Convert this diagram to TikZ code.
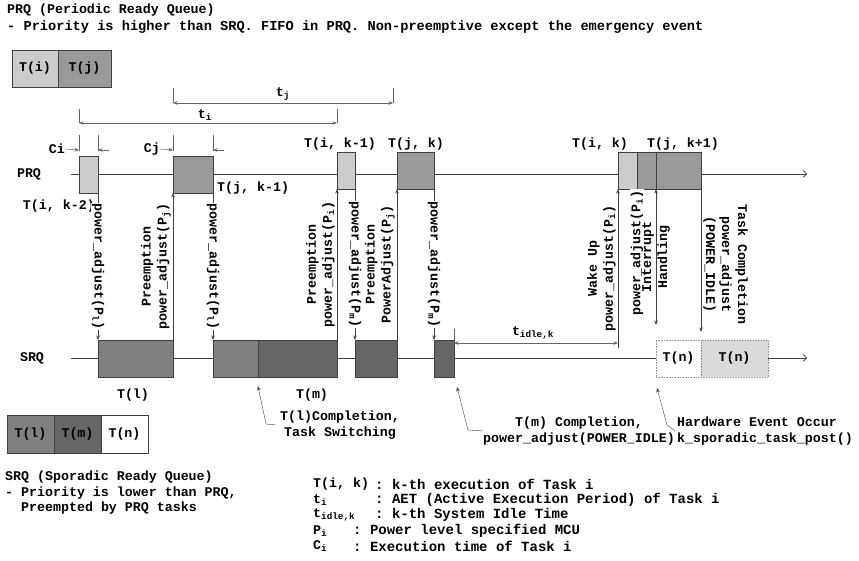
\documentclass[tikz,border=0pt]{standalone}
\usepackage{fontspec}
\setmonofont{Liberation Mono}
\usetikzlibrary{arrows.meta}
\definecolor{ga}{HTML}{CCCCCC}
\definecolor{gb}{HTML}{999999}
\definecolor{gc}{HTML}{808080}
\definecolor{gd}{HTML}{666666}
\definecolor{ge}{HTML}{DADADA}
\definecolor{ln}{HTML}{404040}
\begin{document}
\begin{tikzpicture}[x=1pt,y=-1pt,
  font=\fontsize{13.3}{16}\selectfont\ttfamily\bfseries,
  txt/.style={inner sep=0pt},
  deftxt/.style={inner sep=0pt, anchor=west, font=\fontsize{14}{16}\selectfont\ttfamily\bfseries},
  tbox/.style={draw=ln, line width=0.6pt, inner sep=0pt, outer sep=0pt, anchor=north west, minimum height=37pt},
  qaxis/.style={draw=ln, line width=0.7pt, -{Straight Barb[length=3.5pt,width=7pt]}},
  conn/.style={draw=ln, line width=0.6pt},
  dimline/.style={draw=ln!80, line width=0.5pt},
  arr/.style={-{Stealth[length=4.5pt,width=3.5pt]}},
  darr/.style={{Stealth[length=4.5pt,width=3.5pt]}-{Stealth[length=4.5pt,width=3.5pt]}},
  vlab/.style={inner sep=1pt, fill=white},
  slab/.style={inner sep=2pt, align=center, anchor=south},
]
\useasboundingbox (0,0) rectangle (859,561);

% ---- header texts
\node[txt, anchor=west] (h1) at (7,10) {PRQ (Periodic Ready Queue)};
\node[txt, anchor=west, font=\fontsize{13.65}{16}\selectfont\ttfamily\bfseries] (h2) at (7,27) {- Priority is higher than SRQ. FIFO in PRQ. Non-preemptive except the emergency event};

% ---- PRQ legend
\node[tbox, fill=ga, minimum width=46pt] (lgi) at (12,50) {T(i)};
\node[tbox, fill=gb, minimum width=53pt] (lgj) at (58,50) {T(j)};

% ---- dimension t_j, t_i
\coordinate (tjL) at (173,103); \coordinate (tjR) at (393,103);
\coordinate (tjLt) at (173,88); \coordinate (tjRt) at (393,88);
\draw[dimline] (tjLt) -- (tjL); \draw[dimline] (tjRt) -- (tjR);
\draw[dimline, darr] (tjL) -- (tjR) node[midway, above=2pt, txt] {t\textsubscript{j}};
\coordinate (tiL) at (79,123); \coordinate (tiR) at (337,123);
\coordinate (tiLt) at (79,109); \coordinate (tiRt) at (337,109);
\draw[dimline] (tiLt) -- (tiL); \draw[dimline] (tiRt) -- (tiR);
\draw[dimline, darr] (tiL) -- (tiR) node[midway, above=2pt, txt, xshift=-3pt] {t\textsubscript{i}};

% ---- Ci, Cj
\foreach \x/\n in {79/a,98/b,173/c,213/d}{
  \coordinate (ct\n) at (\x,135); \coordinate (cb\n) at (\x,151);
  \draw[dimline] (ct\n) -- (cb\n);
}
\node[txt, anchor=east] (ci) at (65,149) {Ci};
\node[txt, anchor=east] (cj) at (160,149) {Cj};
\coordinate (cia) at (79,150); \coordinate (cib) at (98,150); \coordinate (cib2) at (109,150);
\coordinate (cja) at (173,150); \coordinate (cjb) at (213,150); \coordinate (cjb2) at (224,150);
\draw[dimline, arr] (ci.east) -- (cia);
\draw[dimline, arr] (cib2) -- (cib);
\draw[dimline, arr] (cj.east) -- (cja);
\draw[dimline, arr] (cjb2) -- (cjb);

% ---- axes
\coordinate (p0) at (71,174); \coordinate (p1) at (807,174);
\coordinate (s0) at (71,358); \coordinate (s1) at (807,358);
\draw[qaxis] (p0) -- (p1);
\draw[qaxis] (s0) -- (s1);
\node[txt] (prq) at (29,174) {PRQ};
\node[txt] (srq) at (32,358) {SRQ};

% ---- PRQ boxes
\node[tbox, fill=ga, minimum width=19pt] (tik2) at (79,156) {};
\node[tbox, fill=gb, minimum width=40pt] (tjk1) at (173,156) {};
\node[tbox, fill=ga, minimum width=18pt] (tik1) at (337,152) {};
\node[tbox, fill=gb, minimum width=37pt] (tjk) at (397,152) {};
\node[tbox, fill=ga, minimum width=19pt] (tik) at (618,152) {};
\node[tbox, fill=gb, minimum width=19pt] (tjk2a) at (637,152) {};
\node[tbox, fill=gb, minimum width=45pt] (tjk2b) at (656,152) {};

\node[txt, anchor=east] (ltik2) at (95,206) {T(i, k-2)};
\node[txt, anchor=west] (ltjk1) at (217,188) {T(j, k-1)};
\node[txt] (ltik1) at (340,144) {T(i, k-1)};
\node[txt] (ltjk) at (416,144) {T(j, k)};
\node[txt] (ltik) at (600,144) {T(i, k)};
\node[txt] (ltjk2) at (683,144) {T(j, k+1)};

% ---- SRQ boxes
\node[tbox, fill=gc, minimum width=75pt] (sl1) at (98,340) {};
\node[tbox, fill=gc, minimum width=45pt] (sl2) at (213,340) {};
\node[tbox, fill=gd, minimum width=79pt] (sm1) at (258,340) {};
\node[tbox, fill=gd, minimum width=42pt] (sm2) at (355,340) {};
\node[tbox, fill=gd, minimum width=20pt] (sm3) at (434,340) {};
\node[tbox, draw=gb, densely dotted, fill=white, minimum width=45pt] (sn1) at (656,340) {T(n)};
\node[tbox, draw=gb, densely dotted, fill=ge, minimum width=67pt] (sn2) at (701,340) {T(n)};
\node[txt] (lsl) at (133,395) {T(l)};
\node[txt] (lsm) at (312,395) {T(m)};

% ---- vertical connectors
\draw[conn, arr] (tik2.south east) -- (sl1.north west)
  node[midway, rotate=-90, vlab] {power\_adjust(P\textsubscript{l})};
\draw[conn, arr] (sl1.north east) -- (tjk1.south west)
  node[midway, rotate=90, slab] {Preemption\\power\_adjust(P\textsubscript{j})};
\draw[conn, arr] (tjk1.south east) -- (sl2.north west)
  node[midway, rotate=-90, vlab] {power\_adjust(P\textsubscript{l})};
\draw[conn, arr] (sm1.north east) -- (tik1.south west)
  node[midway, rotate=90, slab] {Preemption\\power\_adjust(P\textsubscript{i})};
\draw[conn, arr] (tik1.south east) -- (sm2.north west)
  node[midway, rotate=-90, vlab] {power\_adjust(P\textsubscript{m})};
\draw[conn, arr] (sm2.north east) -- (tjk.south west)
  node[midway, rotate=90, slab] {Preemption\\PowerAdjust(P\textsubscript{j})};
\draw[conn, arr] (tjk.south east) -- (sm3.north west)
  node[midway, rotate=-90, vlab] {power\_adjust(P\textsubscript{m})};

% ---- idle time
\coordinate (idL) at (454,343); \coordinate (idR) at (618,343);
\coordinate (idT) at (454,329);
\draw[dimline] (sm3.north east) -- (idT);
\draw[dimline, darr] (idL) -- (idR);
\node[txt] (lidle) at (533,333) {t\textsubscript{idle,k}};

% ---- wake up etc.
\coordinate (wk) at (618,348);
\draw[conn, arr] (wk) -- (tik.south west)
  node[midway, rotate=90, slab] {Wake Up\\power\_adjust(P\textsubscript{i})};
\coordinate (pa) at (637,317);
\draw[conn, arr] (pa) -- (tik.south east)
  node[midway, rotate=90, vlab] {power\_adjust(P\textsubscript{i})};
\coordinate (ih) at (656,325);
\draw[conn, darr] (tjk2a.south east) -- (ih)
  node[midway, rotate=90, inner sep=0pt, align=center] {Interrupt\\Handling};
\draw[conn, arr, shorten >=8pt] (tjk2b.south east) -- (sn2.north west)
  node[midway, rotate=-90, slab] {Task Completion\\power\_adjust\\(POWER\_IDLE)};

% ---- callouts
\node[txt, align=center] (cl1) at (340,425) {T(l)Completion,\\Task Switching};
\coordinate (k1) at (266,424); \coordinate (t1) at (258,386);
\draw[conn, arr, line width=0.4pt] ([xshift=-4pt]cl1.west) -- (k1) -- (t1);
\node[txt, align=center] (cl2) at (579,431) {T(m) Completion,\\power\_adjust(POWER\_IDLE)};
\coordinate (k2) at (468,430); \coordinate (t2) at (457,387);
\draw[conn, arr, line width=0.4pt] (cl2.west) -- (k2) -- (t2);
\node[txt, align=left, anchor=west] (cl3) at (677,431) {Hardware Event Occur\\k\_sporadic\_task\_post()};
\coordinate (k3) at (667,425); \coordinate (t3) at (657,388);
\draw[conn, arr, line width=0.4pt] ([xshift=-2pt]cl3.west) -- (k3) -- (t3);

% ---- SRQ legend
\node[tbox, fill=gc, minimum width=47pt, minimum height=38pt] (lgl) at (7,415) {T(l)};
\node[tbox, fill=gd, minimum width=47pt, minimum height=38pt] (lgm) at (54,415) {T(m)};
\node[tbox, fill=white, minimum width=47pt, minimum height=38pt] (lgn) at (101,415) {T(n)};
\node[txt, anchor=west] (f1) at (5,477) {SRQ (Sporadic Ready Queue)};
\node[txt, anchor=west] (f2) at (5,493) {- Priority is lower than PRQ,};
\node[txt, anchor=west] (f3) at (21,508) {Preempted by PRQ tasks};

% ---- definitions
\node[txt, anchor=west] (d1a) at (313,484) {T(i, k)};
\node[deftxt] (d1b) at (375,484) {: k-th execution of Task i};
\node[txt, anchor=west] (d2a) at (313,500) {t\textsubscript{i}};
\node[deftxt] (d2b) at (375,500) {: AET (Active Execution Period) of Task i};
\node[txt, anchor=west] (d3a) at (313,515) {t\textsubscript{idle,k}};
\node[deftxt] (d3b) at (375,515) {: k-th System Idle Time};
\node[txt, anchor=west] (d4a) at (313,531) {P\textsubscript{i}};
\node[deftxt] (d4b) at (353,531) {: Power level specified MCU};
\node[txt, anchor=west] (d5a) at (313,546) {C\textsubscript{i}};
\node[deftxt] (d5b) at (353,546) {: Execution time of Task i};
\end{tikzpicture}
\end{document}
